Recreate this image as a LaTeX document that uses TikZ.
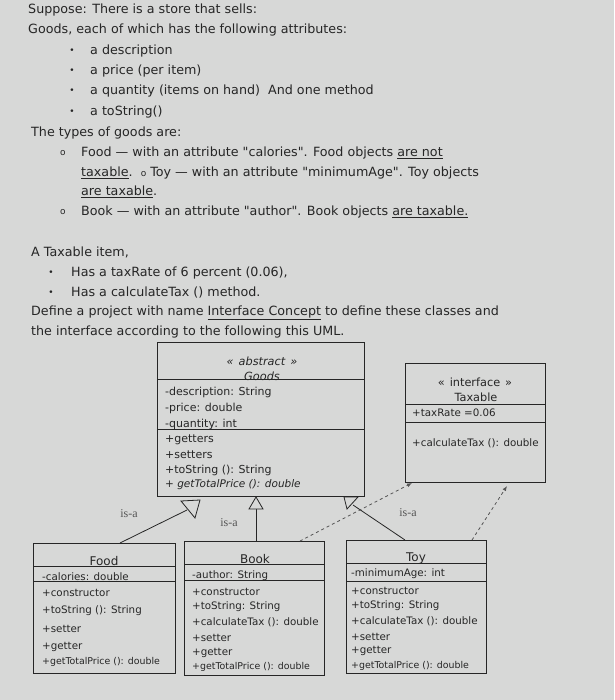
\documentclass[tikz,border=0pt]{standalone}
\usepackage{fontspec}
\setmainfont{DejaVu Sans}
\newfontfamily\isafont{Liberation Serif}
\newfontfamily\qfont{DejaVu Sans}
\usetikzlibrary{arrows.meta}
\definecolor{paper}{HTML}{D7D8D7}
\definecolor{ink}{HTML}{262626}
\definecolor{isagray}{HTML}{555555}
\newcommand{\sq}{{\qfont\symbol{34}}}
\begin{document}
\begin{tikzpicture}[x=1pt,y=-1pt,
  txt/.style={anchor=west, inner sep=0pt, text=ink, font=\fontsize{12.7}{15}\selectfont},
  blt/.style={anchor=center, inner sep=0pt, text=ink, font=\fontsize{9}{11}\selectfont},
  uml/.style={anchor=west, inner sep=0pt, text=ink, font=\fontsize{10.3}{12}\selectfont},
  umlg/.style={anchor=west, inner sep=0pt, text=ink, font=\fontsize{11}{12}\selectfont},
  umlsmall/.style={anchor=west, inner sep=0pt, text=ink, font=\fontsize{9.4}{11}\selectfont},
  umlc/.style={anchor=center, inner sep=0pt, text=ink, font=\fontsize{11.3}{13}\selectfont},
  umlbig/.style={anchor=center, inner sep=0pt, text=ink, font=\fontsize{12}{14}\selectfont},
  classbox/.style={draw=ink, line width=0.8pt, anchor=north west, inner sep=0pt},
  sep/.style={draw=ink, line width=0.8pt},
  isa/.style={anchor=center, inner sep=0pt, text=isagray, font=\isafont\fontsize{12}{13}\selectfont},
  gen/.style={draw=ink, line width=0.8pt},
  hollow/.style={draw=ink, line width=0.8pt, fill=paper},
  realize/.style={draw=isagray, line width=0.8pt, dashed, -{Latex[length=5pt,width=4pt]}}]
\fill[paper] (0,0) rectangle (614,700);
\useasboundingbox (0,0) rectangle (614,700);

% ---- intro text ----
\node[txt] (t1) at (28,10) {Suppose: There is a store that sells:};
\node[txt] (t2) at (28,30) {Goods, each of which has the following attributes:};
\node[blt] (b1) at (72,51) {•};
\node[txt] (a1) at (90,51) {a description};
\node[blt] (b2) at (72,71) {•};
\node[txt] (a2) at (90,71) {a price (per item)};
\node[blt] (b3) at (72,91) {•};
\node[txt] (a3) at (90,91) {a quantity (items on hand)\ \ And one method};
\node[blt] (b4) at (72,112) {•};
\node[txt] (a4) at (90,112) {a toString()};
\node[txt] (t3) at (31,133) {The types of goods are:};
\node[blt] (o1) at (63,153) {o};
\node[txt] (g1) at (81,153) {Food — with an attribute \sq calories\sq. Food objects \underline{are not}};
\node[txt] (g2) at (81,173) {\underline{taxable}.\ \ {\fontsize{9}{11}\selectfont o} Toy — with an attribute \sq minimumAge\sq. Toy objects};
\node[txt] (g3) at (81,192) {\underline{are taxable}.};
\node[blt] (o2) at (63,212) {o};
\node[txt] (g4) at (81,212) {Book — with an attribute \sq author\sq. Book objects \underline{are taxable.}};
\node[txt] (t4) at (31,252) {A Taxable item,};
\node[blt] (b5) at (51,273) {•};
\node[txt] (c1) at (71,273) {Has a taxRate of 6 percent (0.06),};
\node[blt] (b6) at (51,293) {•};
\node[txt] (c2) at (71,293) {Has a calculateTax () method.};
\node[txt] (t5) at (31,313) {Define a project with name \underline{Interface Concept} to define these classes and};
\node[txt] (t6) at (31,332) {the interface according to the following this UML.};

% ---- Goods ----
\node[classbox, minimum width=207pt, minimum height=154pt] (goods) at (157,342) {};
\node[umlc, font=\itshape\fontsize{11.3}{13}\selectfont] (gst) at (262,361) {«\hspace{5pt}abstract\hspace{5pt}»};
\node[umlc, font=\itshape\fontsize{11.3}{13}\selectfont] (gnm) at (262,376) {Goods};
\draw[sep] (157,379) -- (364,379);
\node[umlg] (ga1) at (165,392) {-description: String};
\node[umlg] (ga2) at (165,408) {-price: double};
\node[umlg] (ga3) at (165,424) {-quantity: int};
\draw[sep] (157,429) -- (364,429);
\node[umlg] (gm1) at (165,440) {+getters};
\node[umlg] (gm2) at (165,455) {+setters};
\node[umlg] (gm3) at (165,470) {+toString (): String};
\node[umlg, font=\itshape\fontsize{10.5}{12}\selectfont] (gm4) at (165,485) {+ getTotalPrice (): double};

% ---- Taxable ----
\node[classbox, minimum width=140pt, minimum height=119pt] (tax) at (405,363) {};
\node[umlc] (tst) at (475,382) {«\hspace{5pt}interface\hspace{5pt}»};
\node[umlc] (tnm) at (476,397) {Taxable};
\draw[sep] (405,404) -- (545,404);
\node[uml] (ta1) at (412,413) {+taxRate =0.06};
\draw[sep] (405,422) -- (545,422);
\node[uml] (tm1) at (412,443) {+calculateTax (): double};

% ---- Food ----
\node[classbox, minimum width=142pt, minimum height=130pt] (food) at (33,543) {};
\node[umlbig] (fnm) at (104,561) {Food};
\draw[sep] (33,566) -- (175,566);
\node[uml] (fa1) at (42,577) {-calories: double};
\draw[sep] (33,581) -- (175,581);
\node[uml] (fm1) at (42,593) {+constructor};
\node[uml] (fm2) at (42,611) {+toString (): String};
\node[uml] (fm3) at (42,629) {+setter};
\node[uml] (fm4) at (42,647) {+getter};
\node[umlsmall] (fm5) at (42,662) {+getTotalPrice (): double};

% ---- Book ----
\node[classbox, minimum width=140pt, minimum height=134pt] (book) at (184,541) {};
\node[umlbig] (bnm) at (255,559) {Book};
\draw[sep] (184,564) -- (324,564);
\node[uml] (ba1) at (192,576) {-author: String};
\draw[sep] (184,580) -- (324,580);
\node[uml] (bm1) at (192,592) {+constructor};
\node[uml] (bm2) at (192,607) {+toString: String};
\node[uml] (bm3) at (192,622) {+calculateTax (): double};
\node[uml] (bm4) at (192,638) {+setter};
\node[uml] (bm5) at (192,653) {+getter};
\node[umlsmall] (bm6) at (192,667) {+getTotalPrice (): double};

% ---- Toy ----
\node[classbox, minimum width=140pt, minimum height=133pt] (toy) at (346,540) {};
\node[umlbig] (ynm) at (416,558) {Toy};
\draw[sep] (346,563) -- (486,563);
\node[uml] (ya1) at (351,574) {-minimumAge: int};
\draw[sep] (346,581) -- (486,581);
\node[uml] (ym1) at (351,591) {+constructor};
\node[uml] (ym2) at (351,606) {+toString: String};
\node[uml] (ym3) at (351,621) {+calculateTax (): double};
\node[uml] (ym4) at (351,637) {+setter};
\node[uml] (ym5) at (351,651) {+getter};
\node[umlsmall] (ym6) at (351,666) {+getTotalPrice (): double};

% ---- generalisation connectors ----
\coordinate (fS) at (120,543);
\coordinate (fE) at (187,510);
\draw[gen] (fS) -- (fE);
\draw[hollow] (181,501) -- (200,500) -- (195,518) -- cycle;

\coordinate (bS) at (256,541);
\coordinate (bE) at (256,509);
\draw[gen] (bS) -- (bE);
\draw[hollow] (256,497) -- (263,509) -- (249,509) -- cycle;

\coordinate (yS) at (405,540);
\coordinate (yE) at (353,505);
\draw[gen] (yS) -- (yE);
\draw[hollow] (344,497) -- (358,497) -- (347,509) -- cycle;

\node[isa] (l1) at (129,514) {is-a};
\node[isa] (l2) at (229,523) {is-a};
\node[isa] (l3) at (408,513) {is-a};

% ---- realisation connectors ----
\coordinate (rb1) at (300,541);
\coordinate (rb2) at (412,483);
\draw[realize] (rb1) -- (rb2);
\coordinate (ry1) at (472,540);
\coordinate (ry2) at (507,486);
\draw[realize] (ry1) -- (ry2);
\end{tikzpicture}
\end{document}
